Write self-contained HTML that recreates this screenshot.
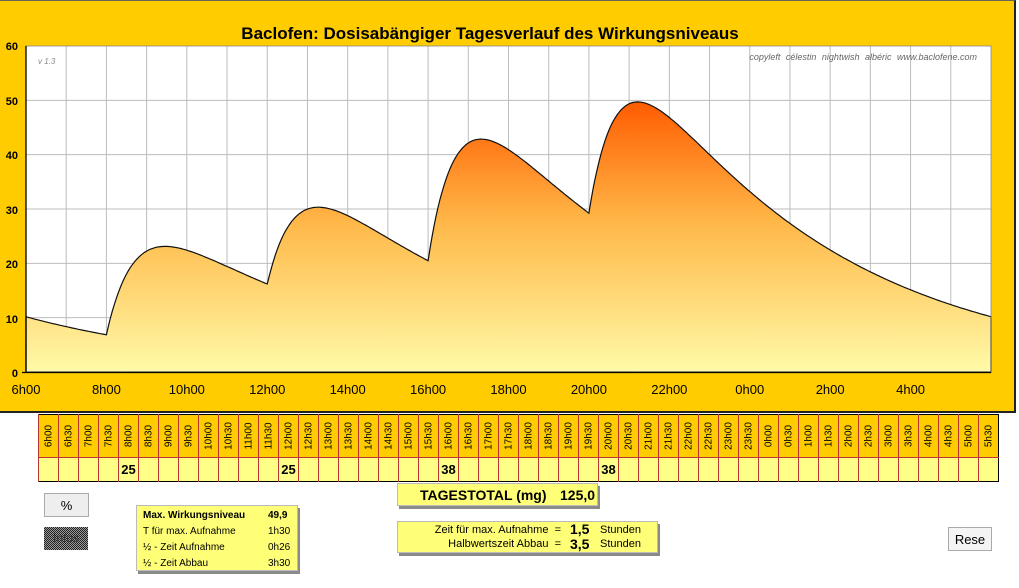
<!DOCTYPE html>
<html><head><meta charset="utf-8"><style>
body{margin:0;width:1019px;height:588px;background:#fff;position:relative;overflow:hidden;font-family:"Liberation Sans",Arial,sans-serif}
.abs{position:absolute}
.box{background:#ffff77;box-shadow:2px 3px 0 #8a8a8a;border:1px solid #bbb;box-sizing:border-box}
table.t{border-collapse:collapse;position:absolute;left:38px;top:414px;table-layout:fixed}
table.t td{width:19px;border-left:1px solid #b33;padding:0;text-align:center;overflow:hidden;position:relative}
table.t tr.h td{height:42px;background:#ffcc00;border-bottom:1px solid #b33}
table.t tr.d td{height:23px;background:#ffff88;font-weight:bold;font-size:13px}
.rot{position:absolute;left:50%;top:50%;transform:translate(-50%,-50%) rotate(-90deg);font-size:10px;white-space:nowrap}
.btn{background:#eee;border:1px solid #aaa;box-sizing:border-box;text-align:center;font-size:13px}
</style></head><body>
<div class="abs" style="left:0;top:0;width:1014px;height:410px;background:#ffcc00;border-right:2px solid #222;border-bottom:2px solid #222;border-top:1px solid #665"></div>
<svg class="abs" style="left:0;top:0" width="1019" height="412" id="s">
<defs><linearGradient id="g" gradientUnits="userSpaceOnUse" x1="0" y1="100" x2="0" y2="372">
<stop offset="0" stop-color="#ff5a00"/><stop offset="0.45" stop-color="#ffb848"/><stop offset="1" stop-color="#fffaa8"/></linearGradient></defs>
<rect x="26" y="46" width="965" height="326" fill="#fff"/>
<g id="grid" stroke="#bdbdbd" stroke-width="1"></g>
<path id="area" fill="url(#g)" stroke="#111" stroke-width="1.2"/>
<rect x="26" y="46" width="965" height="326" fill="none" stroke="#888" stroke-width="0.8"/>
<line x1="26" y1="46" x2="26" y2="373" stroke="#000" stroke-width="1.3"/>
<line x1="22" y1="372.5" x2="991" y2="372.5" stroke="#000" stroke-width="1.3"/>
<g font-size="11" font-weight="bold" text-anchor="end">
<text x="18" y="50">60</text><text x="18" y="105">50</text><text x="18" y="159">40</text><text x="18" y="214">30</text><text x="18" y="268">20</text><text x="18" y="323">10</text><text x="18" y="377">0</text></g>
<g font-size="13" text-anchor="middle" id="xl"></g>
<text x="490" y="39" font-size="17" font-weight="bold" text-anchor="middle">Baclofen: Dosisabängiger Tagesverlauf des Wirkungsniveaus</text>
<text x="38" y="64" font-size="8" font-style="italic" fill="#888">v 1.3</text>
<text x="977" y="60" font-size="9" font-style="italic" fill="#666" text-anchor="end" word-spacing="3">copyleft  célestin  nightwish  albéric  www.baclofene.com</text>
</svg>
<table class="t" style="border:1.5px solid #000" id="tb"></table>
<div class="abs box" style="left:397px;top:483px;width:201px;height:23px;font-weight:bold;font-size:14px;line-height:22px"><span style="position:absolute;left:22px">TAGESTOTAL (mg)</span><span style="position:absolute;left:162px">125,0</span></div>
<div class="abs btn" style="left:44px;top:493px;width:45px;height:24px;line-height:23px">%</div>
<div class="abs" style="left:44px;top:527px;width:44px;height:23px;background:repeating-conic-gradient(#222 0 25%,#999 0 50%) 0 0/2px 2px;font-size:12px;line-height:22px;text-align:center;color:#333">Infos</div>
<div class="abs box" style="left:136px;top:505px;width:162px;height:66px;font-size:10px;line-height:16px;padding:2px 0 0 6px">
<div><b>Max. Wirkungsniveau</b><span style="position:absolute;left:131px"><b>49,9</b></span></div>
<div>T für max. Aufnahme<span style="position:absolute;left:131px">1h30</span></div>
<div>½ - Zeit Aufnahme<span style="position:absolute;left:131px">0h26</span></div>
<div>½ - Zeit Abbau<span style="position:absolute;left:131px">3h30</span></div></div>
<div class="abs box" style="left:397px;top:521px;width:261px;height:32px;font-size:11px;line-height:14px;padding-top:1px">
<div style="position:absolute;right:96px;top:1px;text-align:right">Zeit für max. Aufnahme &nbsp;=<br>Halbwertszeit Abbau &nbsp;=</div>
<div style="position:absolute;left:172px;top:0;font-weight:bold;font-size:14px;line-height:15px">1,5<br>3,5</div>
<div style="position:absolute;left:202px;top:1px">Stunden<br>Stunden</div></div>
<div class="abs btn" style="left:948px;top:527px;width:44px;height:24px;line-height:23px;background:#f4f4f4">Rese</div>
<script>
var X0=26,W=965,Y0=372,S=326/60;
var g=document.getElementById('grid'),h='';
for(var i=1;i<24;i++){var x=X0+i*W/24;h+='<line x1="'+x+'" y1="46" x2="'+x+'" y2="372"/>';}
for(var v=10;v<=50;v+=10){var y=Y0-v*S;h+='<line x1="26" y1="'+y+'" x2="991" y2="'+y+'"/>';}
for(var i=1;i<24;i++){var x=X0+i*W/24;h+='<line x1="'+x+'" y1="368" x2="'+x+'" y2="372" stroke="#000"/>';}
g.innerHTML=h;
var xl='';for(var i=0;i<12;i++){var hr=(6+2*i)%24;xl+='<text x="'+(X0+2*i*W/24)+'" y="394">'+hr+'h00</text>';}
document.getElementById('xl').innerHTML=xl;
var ka=Math.LN2/0.5,ke=Math.LN2/3.5,doses=[[2,25],[6,25],[10,38],[14,38]];
function C(t){var c=0;for(var d=-5;d<=2;d++)for(var k=0;k<4;k++){var dt=t-(doses[k][0]+24*d);if(dt>0)c+=doses[k][1]*ka/(ka-ke)*(Math.exp(-ke*dt)-Math.exp(-ka*dt));}return c;}
var p='M'+X0+' '+Y0;for(var t=0;t<=24.0001;t+=0.05){var tt=t+48;p+=' L'+(X0+t*W/24).toFixed(1)+' '+(Y0-C(tt)*S).toFixed(1);}
p+=' L'+(X0+W)+' '+Y0+' Z';document.getElementById('area').setAttribute('d',p);
var tb=document.getElementById('tb'),r1='<tr class="h">',r2='<tr class="d">';
for(var i=0;i<48;i++){var hr=(6+Math.floor(i/2))%24;var lab=hr+'h'+(i%2?'30':'00');r1+='<td><span class="rot">'+lab+'</span></td>';
var v={4:'25',12:'25',20:'38',28:'38'}[i]||'';r2+='<td>'+v+'</td>';}
tb.innerHTML=r1+'</tr>'+r2+'</tr>';
</script>
</body></html>
